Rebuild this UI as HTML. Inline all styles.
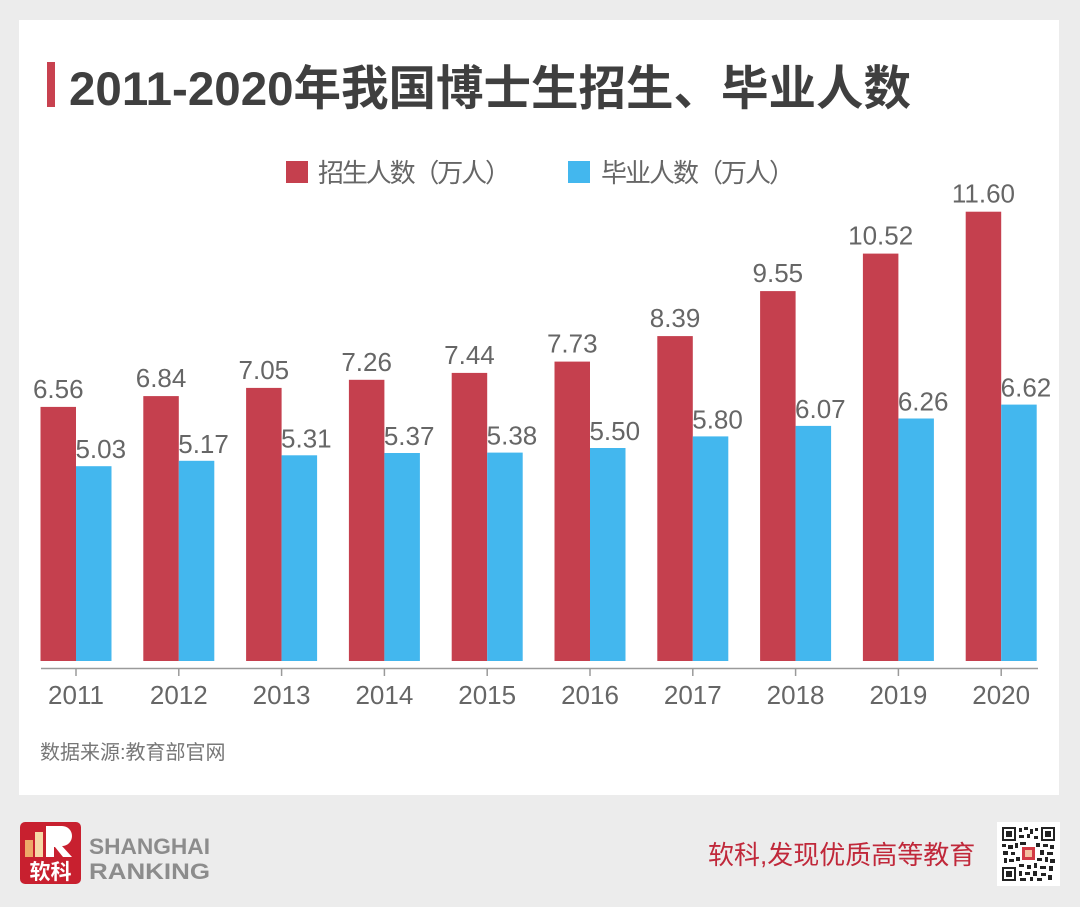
<!DOCTYPE html>
<html>
<head>
<meta charset="utf-8">
<style>
  html,body{margin:0;padding:0;}
  body{width:1080px;height:907px;overflow:hidden;background:#ececec;}
  svg{display:block;}
  .t{font-family:"Liberation Sans","Noto Sans CJK SC",sans-serif;}
</style>
</head>
<body>
<svg width="1080" height="907" viewBox="0 0 1080 907" xmlns="http://www.w3.org/2000/svg">
  <rect x="0" y="0" width="1080" height="907" fill="#ececec"/>
  <rect x="19" y="20" width="1040" height="775" fill="#ffffff"/>

  <rect x="47" y="62" width="8" height="45" fill="#c8414f"/>
  <text class="t" x="69" y="105" font-size="47.5" font-weight="bold" fill="#3f3f3f">2011-2020年我国博士生招生、毕业人数</text>

  <rect x="286" y="161" width="22" height="22" fill="#c5404e"/>
  <text class="t" x="318" y="182" font-size="26" fill="#666" textLength="193" lengthAdjust="spacing">招生人数（万人）</text>
  <rect x="568" y="161" width="22" height="22" fill="#43b7ee"/>
  <text class="t" x="601" y="182" font-size="26" fill="#666" textLength="194" lengthAdjust="spacing">毕业人数（万人）</text>

  <g fill="#c5404e">
    <rect x="40.5" y="406.9" width="35.5" height="254.1"/>
    <rect x="143.3" y="396.1" width="35.5" height="264.9"/>
    <rect x="246.1" y="387.9" width="35.5" height="273.1"/>
    <rect x="348.9" y="379.8" width="35.5" height="281.2"/>
    <rect x="451.7" y="372.9" width="35.5" height="288.1"/>
    <rect x="554.5" y="361.6" width="35.5" height="299.4"/>
    <rect x="657.3" y="336.1" width="35.5" height="324.9"/>
    <rect x="760.1" y="291.1" width="35.5" height="369.9"/>
    <rect x="862.9" y="253.6" width="35.5" height="407.4"/>
    <rect x="965.7" y="211.7" width="35.5" height="449.3"/>
  </g>
  <g fill="#43b7ee">
    <rect x="76" y="466.2" width="35.5" height="194.8"/>
    <rect x="178.8" y="460.8" width="35.5" height="200.2"/>
    <rect x="281.6" y="455.3" width="35.5" height="205.7"/>
    <rect x="384.4" y="453.0" width="35.5" height="208.0"/>
    <rect x="487.2" y="452.6" width="35.5" height="208.4"/>
    <rect x="590" y="448.0" width="35.5" height="213.0"/>
    <rect x="692.8" y="436.4" width="35.5" height="224.6"/>
    <rect x="795.6" y="425.9" width="35.5" height="235.1"/>
    <rect x="898.4" y="418.5" width="35.5" height="242.5"/>
    <rect x="1001.2" y="404.6" width="35.5" height="256.4"/>
  </g>

  <g class="t" font-size="26" fill="#666" text-anchor="middle">
    <text x="58.25" y="397.9">6.56</text>
    <text x="161.05" y="387.1">6.84</text>
    <text x="263.85" y="378.9">7.05</text>
    <text x="366.65" y="370.8">7.26</text>
    <text x="469.45" y="363.9">7.44</text>
    <text x="572.25" y="352.6">7.73</text>
    <text x="675.05" y="327.1">8.39</text>
    <text x="777.85" y="282.1">9.55</text>
    <text x="880.65" y="244.6">10.52</text>
    <text x="983.45" y="202.7">11.60</text>
    <text x="100.75" y="458.2">5.03</text>
    <text x="203.55" y="452.8">5.17</text>
    <text x="306.35" y="447.3">5.31</text>
    <text x="409.15" y="445.0">5.37</text>
    <text x="511.95" y="444.6">5.38</text>
    <text x="614.75" y="440.0">5.50</text>
    <text x="717.55" y="428.4">5.80</text>
    <text x="820.35" y="417.9">6.07</text>
    <text x="923.15" y="410.5">6.26</text>
    <text x="1025.95" y="396.6">6.62</text>
  </g>

  <line x1="41" y1="668.5" x2="1038" y2="668.5" stroke="#9a9a9a" stroke-width="1.5"/>
  <g stroke="#9a9a9a" stroke-width="1.5">
    <line x1="76" y1="668.5" x2="76" y2="676"/>
    <line x1="178.8" y1="668.5" x2="178.8" y2="676"/>
    <line x1="281.6" y1="668.5" x2="281.6" y2="676"/>
    <line x1="384.4" y1="668.5" x2="384.4" y2="676"/>
    <line x1="487.2" y1="668.5" x2="487.2" y2="676"/>
    <line x1="590" y1="668.5" x2="590" y2="676"/>
    <line x1="692.8" y1="668.5" x2="692.8" y2="676"/>
    <line x1="795.6" y1="668.5" x2="795.6" y2="676"/>
    <line x1="898.4" y1="668.5" x2="898.4" y2="676"/>
    <line x1="1001.2" y1="668.5" x2="1001.2" y2="676"/>
  </g>
  <g class="t" font-size="26" fill="#666" text-anchor="middle">
    <text x="76" y="704">2011</text>
    <text x="178.8" y="704">2012</text>
    <text x="281.6" y="704">2013</text>
    <text x="384.4" y="704">2014</text>
    <text x="487.2" y="704">2015</text>
    <text x="590" y="704">2016</text>
    <text x="692.8" y="704">2017</text>
    <text x="795.6" y="704">2018</text>
    <text x="898.4" y="704">2019</text>
    <text x="1001.2" y="704">2020</text>
  </g>

  <text class="t" x="40" y="759" font-size="20" fill="#777">数据来源:教育部官网</text>

  <rect x="20" y="822" width="61" height="62" rx="5" fill="#c8202f"/>
  <rect x="25" y="840" width="8" height="17" fill="#eea868"/>
  <rect x="35" y="832" width="8" height="25" fill="#f6d8a6"/>
  <path d="M46 826 H62 A10 10 0 0 1 62 846 L72 857 H63 L55 847 H54 V857 H46 Z" fill="#ffffff"/>
  <text class="t" x="50.5" y="879" font-size="21" font-weight="bold" fill="#ffffff" text-anchor="middle">软科</text>

  <text class="t" x="89" y="854" font-size="22" font-weight="bold" fill="#8c8c8c" textLength="121" lengthAdjust="spacingAndGlyphs">SHANGHAI</text>
  <text class="t" x="89" y="879" font-size="22" font-weight="bold" fill="#8c8c8c" textLength="121" lengthAdjust="spacingAndGlyphs">RANKING</text>

  <text class="t" x="708" y="864" font-size="26" fill="#c0283a">软科,发现优质高等教育</text>

  <rect x="997" y="822" width="63" height="64" fill="#ffffff"/>
  <g fill="#222">
    <rect x="1002" y="827" width="14" height="14"/>
    <rect x="1041" y="827" width="14" height="14"/>
    <rect x="1002" y="867" width="14" height="14"/>
  </g>
  <g fill="#ffffff">
    <rect x="1004" y="829" width="10" height="10"/>
    <rect x="1043" y="829" width="10" height="10"/>
    <rect x="1004" y="869" width="10" height="10"/>
  </g>
  <g fill="#222">
    <rect x="1006" y="831" width="6" height="6"/>
    <rect x="1045" y="831" width="6" height="6"/>
    <rect x="1006" y="871" width="6" height="6"/>
    <rect x="1019" y="828" width="3" height="4"/>
    <rect x="1024" y="827" width="4" height="3"/>
    <rect x="1030" y="829" width="3" height="5"/>
    <rect x="1035" y="828" width="3" height="3"/>
    <rect x="1019" y="835" width="5" height="3"/>
    <rect x="1027" y="834" width="3" height="4"/>
    <rect x="1034" y="836" width="4" height="3"/>
    <rect x="1002" y="844" width="4" height="3"/>
    <rect x="1008" y="845" width="5" height="4"/>
    <rect x="1015" y="843" width="3" height="5"/>
    <rect x="1020" y="842" width="6" height="3"/>
    <rect x="1036" y="843" width="4" height="4"/>
    <rect x="1043" y="844" width="5" height="3"/>
    <rect x="1050" y="845" width="4" height="4"/>
    <rect x="1003" y="851" width="5" height="4"/>
    <rect x="1011" y="852" width="4" height="3"/>
    <rect x="1040" y="850" width="4" height="5"/>
    <rect x="1047" y="852" width="6" height="3"/>
    <rect x="1004" y="858" width="3" height="5"/>
    <rect x="1009" y="859" width="5" height="3"/>
    <rect x="1016" y="857" width="4" height="4"/>
    <rect x="1037" y="858" width="5" height="3"/>
    <rect x="1045" y="857" width="3" height="5"/>
    <rect x="1050" y="859" width="5" height="4"/>
    <rect x="1019" y="864" width="5" height="3"/>
    <rect x="1027" y="865" width="4" height="4"/>
    <rect x="1034" y="863" width="3" height="5"/>
    <rect x="1040" y="866" width="6" height="3"/>
    <rect x="1049" y="866" width="4" height="5"/>
    <rect x="1019" y="871" width="3" height="5"/>
    <rect x="1025" y="872" width="5" height="3"/>
    <rect x="1033" y="871" width="4" height="5"/>
    <rect x="1041" y="873" width="5" height="3"/>
    <rect x="1048" y="875" width="4" height="5"/>
    <rect x="1020" y="878" width="6" height="3"/>
    <rect x="1030" y="877" width="3" height="4"/>
    <rect x="1037" y="878" width="5" height="3"/>
  </g>
  <rect x="1022" y="847" width="13" height="13" fill="#d33a44"/>
  <rect x="1025" y="850" width="7" height="7" fill="#f4c0a0"/>
</svg>
</body>
</html>
